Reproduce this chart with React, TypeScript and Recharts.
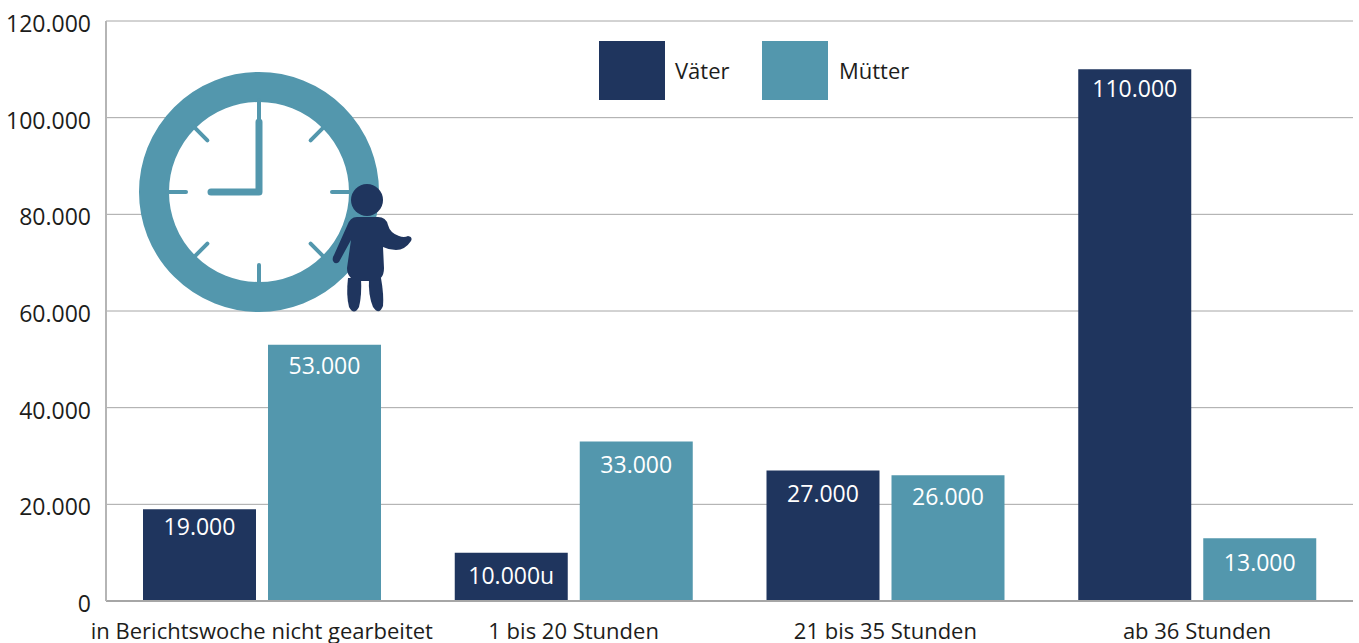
import { Bar, BarChart, CartesianGrid, LabelList, XAxis, YAxis } from "recharts";

const categories = ["in Berichtswoche nicht gearbeitet", "1 bis 20 Stunden", "21 bis 35 Stunden", "ab 36 Stunden"];
const vaeter = [19000, 10000, 27000, 110000];
const muetter = [53000, 33000, 26000, 13000];
const vaeterLabels = ["19.000", "10.000u", "27.000", "110.000"];
const muetterLabels = ["53.000", "33.000", "26.000", "13.000"];
const yTicks = [0, 20000, 40000, 60000, 80000, 100000, 120000];

const NAVY = "#1f355e";
const TEAL = "#5397ad";
const GRID = "#a6a6a6";
const INK = "#1d1d1b";
const FONT = '"Open Sans", sans-serif';

// Abstand Balkenoberkante -> Mitte der Beschriftung, im Original nicht einheitlich
const vaeterLabelDrop = [17, 22, 22, 19];
const muetterLabelDrop = [20, 22, 21, 24];

const data = categories.map((name, i) => ({
  name,
  vaeter: vaeter[i],
  muetter: muetter[i],
  vaeterLabel: vaeterLabels[i],
  muetterLabel: muetterLabels[i],
}));

const formatTick = (v: number) => (v === 0 ? "0" : v.toLocaleString("de-DE"));

const barLabel = (drops: number[]) => (props: any) => (
  <text
    x={props.x + props.width / 2}
    y={props.y + drops[props.index]}
    fill="#fff"
    fontSize={23}
    fontFamily={FONT}
    textAnchor="middle"
    dominantBaseline="central"
  >
    {props.value}
  </text>
);

// Uhr + Kind als Deko oben links
function ClockIcon() {
  const cx = 259;
  const cy = 192;
  const marks = [0, 45, 90, 135, 180, 225, 270, 315];
  return (
    <svg width={1359} height={643} style={{ position: "absolute", left: 0, top: 0, pointerEvents: "none" }}>
      <circle cx={cx} cy={cy} r={105} fill="#fff" stroke={TEAL} strokeWidth={30} />
      {marks.map((a) => {
        const r = (a * Math.PI) / 180;
        return (
          <line
            key={a}
            x1={cx + Math.sin(r) * 73}
            y1={cy - Math.cos(r) * 73}
            x2={cx + Math.sin(r) * 92}
            y2={cy - Math.cos(r) * 92}
            stroke={TEAL}
            strokeWidth={4}
            strokeLinecap="round"
          />
        );
      })}
      <polyline
        points={`${cx},122 ${cx},${cy} 211,${cy}`}
        fill="none"
        stroke={TEAL}
        strokeWidth={7}
        strokeLinecap="round"
        strokeLinejoin="round"
      />
      <circle cx={367} cy={200} r={16} fill={NAVY} />
      <path
        d="M357 217 L378 217 Q386 217 388 225 Q390 233 399 236 Q404 238 408 236 Q413 237 411 241 Q405 250 396 250 Q389 250 383 247 L384 268 Q384 281 372 281 L360 281 Q347 280 347 268 L351 240 L339 262 Q335 265 333 261 Q332 258 334 255 L347 226 Q350 217 357 217 Z"
        fill={NAVY}
      />
      <path d="M348 278 L361 278 Q362 295 359 307 Q354 316 349 307 Q346 295 348 278 Z" fill={NAVY} />
      <path d="M369 278 L381 278 Q384 295 383 306 Q379 316 373 307 Q368 295 369 278 Z" fill={NAVY} />
    </svg>
  );
}

export default function App() {
  return (
    <div style={{ position: "absolute", left: 0, top: 0, width: 1359, height: 643, overflow: "hidden", background: "#fff" }}>
      <BarChart
        width={1359}
        height={643}
        data={data}
        barCategoryGap={37}
        barGap={12}
        margin={{ top: 21, right: 6, left: 0, bottom: 0 }}
      >
        <CartesianGrid vertical={false} stroke={GRID} strokeWidth={1} />
        <XAxis
          dataKey="name"
          interval={0}
          height={42}
          axisLine={{ stroke: GRID, strokeWidth: 2 }}
          tickLine={false}
          tick={{ fill: INK, fontSize: 22, fontFamily: FONT }}
          tickMargin={16}
        />
        <YAxis
          ticks={yTicks}
          domain={[0, 120000]}
          width={106}
          axisLine={{ stroke: "#b5b5b5", strokeWidth: 2 }}
          tickLine={false}
          tickFormatter={formatTick}
          tick={{ fill: INK, fontSize: 23, fontFamily: FONT, dy: 3 }}
          tickMargin={9}
        />
        <Bar dataKey="vaeter" fill={NAVY} barSize={113} isAnimationActive={false}>
          <LabelList dataKey="vaeterLabel" content={barLabel(vaeterLabelDrop)} />
        </Bar>
        <Bar dataKey="muetter" fill={TEAL} barSize={113} isAnimationActive={false}>
          <LabelList dataKey="muetterLabel" content={barLabel(muetterLabelDrop)} />
        </Bar>
      </BarChart>
      <ClockIcon />
      <div style={{ position: "absolute", left: 599, top: 41, width: 66, height: 59, background: NAVY }} />
      <div style={{ position: "absolute", left: 675, top: 55, fontFamily: FONT, fontSize: 22, color: INK }}>Väter</div>
      <div style={{ position: "absolute", left: 762, top: 41, width: 66, height: 59, background: TEAL }} />
      <div style={{ position: "absolute", left: 839, top: 55, fontFamily: FONT, fontSize: 22, color: INK }}>Mütter</div>
    </div>
  );
}
